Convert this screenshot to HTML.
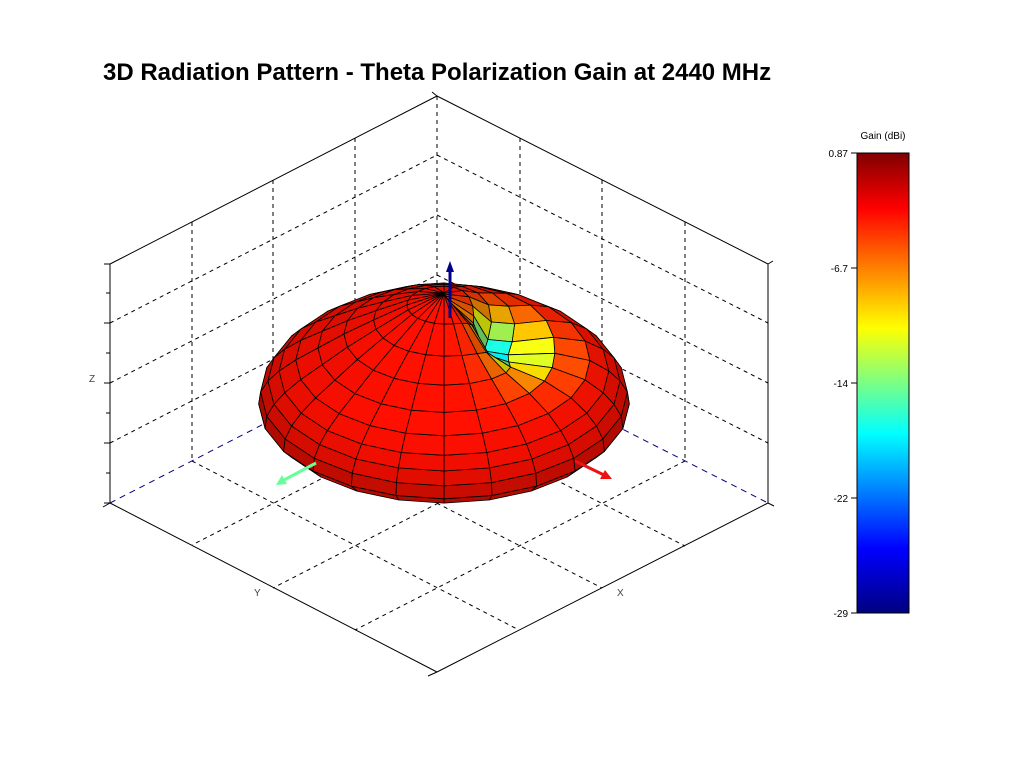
<!DOCTYPE html>
<html><head><meta charset="utf-8"><style>
html,body{margin:0;padding:0;background:#fff;width:1033px;height:768px;overflow:hidden}
svg{position:absolute;left:0;top:0}
text{font-family:"Liberation Sans",Arial,sans-serif}
</style></head><body>
<svg id="s" width="1033" height="768" viewBox="0 0 1033 768">
<defs>
<linearGradient id="jet" x1="0" y1="0" x2="0" y2="1">
<stop offset="0" stop-color="#800000"/>
<stop offset="0.12" stop-color="#ff0000"/>
<stop offset="0.38" stop-color="#ffff00"/>
<stop offset="0.61" stop-color="#00ffff"/>
<stop offset="0.86" stop-color="#0000ff"/>
<stop offset="1" stop-color="#000080"/>
</linearGradient>
</defs>
<text x="103" y="80" font-size="24" font-weight="bold" fill="#000">3D Radiation Pattern - Theta Polarization Gain at 2440 MHz</text>
<g stroke="#000" stroke-width="1" fill="none" stroke-dasharray="4,4">
<line x1="437" y1="96" x2="437" y2="335"/>
<line x1="192" y1="222" x2="192" y2="461"/>
<line x1="273" y1="180" x2="273" y2="419"/>
<line x1="355" y1="138" x2="355" y2="377"/>
<line x1="520" y1="138" x2="520" y2="377"/>
<line x1="602" y1="180" x2="602" y2="419"/>
<line x1="685" y1="222" x2="685" y2="461"/>
<line x1="110" y1="323" x2="437" y2="155"/>
<line x1="110" y1="383" x2="437" y2="215"/>
<line x1="110" y1="443" x2="437" y2="275"/>
<line x1="437" y1="155" x2="768" y2="323"/>
<line x1="437" y1="215" x2="768" y2="383"/>
<line x1="437" y1="275" x2="768" y2="443"/>
<line x1="192" y1="461" x2="519" y2="630"/>
<line x1="273" y1="419" x2="602" y2="588"/>
<line x1="355" y1="377" x2="685" y2="546"/>
<line x1="520" y1="377" x2="192" y2="545"/>
<line x1="602" y1="419" x2="273" y2="588"/>
<line x1="685" y1="461" x2="355" y2="630"/>
</g>
<g stroke="#000080" stroke-width="1" stroke-dasharray="6,5">
<line x1="110" y1="503" x2="437" y2="335"/>
<line x1="437" y1="335" x2="768" y2="503"/>
</g>
<g stroke="#000" stroke-width="1" fill="none">
<line x1="110" y1="264" x2="110" y2="503"/>
<line x1="768" y1="264" x2="768" y2="503"/>
<line x1="110" y1="264" x2="437" y2="96"/>
<line x1="437" y1="96" x2="768" y2="264"/>
<line x1="110" y1="503" x2="437" y2="672"/>
<line x1="437" y1="672" x2="768" y2="503"/>
<path d="M104 264h6M106 293h4M104 323h6M106 353h4M104 383h6M106 413h4M104 443h6M106 473h4M104 503h6"/>
<path d="M103 507l7-4M428 676l9-4M432 92l5 4M768 264l5-3M768 503l6 3"/>
</g>
<text x="89" y="382" font-size="10" fill="#444">Z</text>
<text x="254" y="596" font-size="10" fill="#444">Y</text>
<text x="617" y="596" font-size="10" fill="#444">X</text>
<g id="blob"></g>
<g stroke-width="3">
<line x1="450" y1="318" x2="450" y2="270" stroke="#00008b"/>
<line x1="575" y1="461" x2="604" y2="475" stroke="#ee1111"/>
<line x1="316" y1="463" x2="284" y2="480" stroke="#66ff99"/>
</g>
<polygon points="450,261 446,272 454,272" fill="#00008b"/>
<polygon points="612,479 600,479 605,470" fill="#ee1111"/>
<polygon points="276,485 282,475 287,484" fill="#66ff99"/>
<rect x="857" y="153" width="52" height="460" fill="url(#jet)" stroke="#000" stroke-width="1"/>
<g stroke="#000"><path d="M851 153h6M851 268h6M851 383h6M851 498h6M851 613h6"/></g>
<g font-size="10" fill="#000" text-anchor="end">
<text x="848" y="157">0.87</text>
<text x="848" y="272">-6.7</text>
<text x="848" y="387">-14</text>
<text x="848" y="502">-22</text>
<text x="848" y="617">-29</text>
</g>
<text x="883" y="139" font-size="10" text-anchor="middle">Gain (dBi)</text>
</svg>
<script>
(function(){
const RHO=[0,.2,.38,.54,.68,.8,.89,.95,.99,1,.94];
const H=[99,87,72,58,44,32,21,11,0,-12,-22];
const NT=RHO.length-1,NP=24,CY=392,PH0=-42*Math.PI/180;
function dip(t,ph){let d=ph-PH0;d=Math.atan2(Math.sin(d),Math.cos(d));
 return Math.exp(-((t-2.3)*(t-2.3))/2.2-(d*d)/0.5);}
function P(t,p){const ph=p*2*Math.PI/NP;const d=dip(t,ph);const s=1-0.45*d;
 const X=RHO[t]*Math.cos(ph)*s,Y=RHO[t]*Math.sin(ph)*s,Z=H[t]/100*s;
 return {X,Y,Z,d,sx:444+(X-Y)*131,sy:CY+(X+Y)*67-Z*100};}
function jet(v){const c=x=>Math.max(0,Math.min(1,x));return [c(1.5-Math.abs(4*v-3)),c(1.5-Math.abs(4*v-2)),c(1.5-Math.abs(4*v-1))];}
const quads=[];
for(let t=0;t<NT;t++)for(let p=0;p<NP;p++){
 const a=P(t,p),b=P(t+1,p),c=P(t+1,p+1),e=P(t,p+1);
 const cxn=(b.X+c.X)/2-(a.X+e.X)/2, cyn=(b.Y+c.Y)/2-(a.Y+e.Y)/2, czn=(b.Z+c.Z)/2-(a.Z+e.Z)/2;
 const dx=(e.X+c.X)/2-(a.X+b.X)/2, dy=(e.Y+c.Y)/2-(a.Y+b.Y)/2, dz=(e.Z+c.Z)/2-(a.Z+b.Z)/2;
 let nx=cyn*dz-czn*dy,ny=czn*dx-cxn*dz,nz=cxn*dy-cyn*dx;const nl=Math.hypot(nx,ny,nz)||1;nx/=nl;ny/=nl;nz/=nl;
 const L=[0.25,0.25,1];const ll=Math.hypot(...L);
 const lam=Math.abs(nx*L[0]+ny*L[1]+nz*L[2])/ll;
 const dd=(a.d+b.d+c.d+e.d)/4;const v=0.86-0.6*Math.pow(dd,1.2);
 let col=jet(v);const sh=0.6+0.45*lam;
 const rgb='rgb('+col.map(x=>Math.round(Math.min(255,x*255*sh))).join(',')+')';
 const depth=((a.X+b.X+c.X+e.X)+(a.Y+b.Y+c.Y+e.Y))/4*0.5+(a.Z+b.Z+c.Z+e.Z)/4*0.75;
 quads.push({depth,pts:[a,b,c,e].map(q=>q.sx.toFixed(1)+','+q.sy.toFixed(1)).join(' '),rgb});
}
quads.sort((x,y)=>x.depth-y.depth);
let h='';for(const q of quads)h+='<polygon points="'+q.pts+'" fill="'+q.rgb+'" stroke="#000" stroke-width="0.8" stroke-linejoin="round"/>';
document.getElementById('blob').innerHTML=h;
})();
</script>
</body></html>
